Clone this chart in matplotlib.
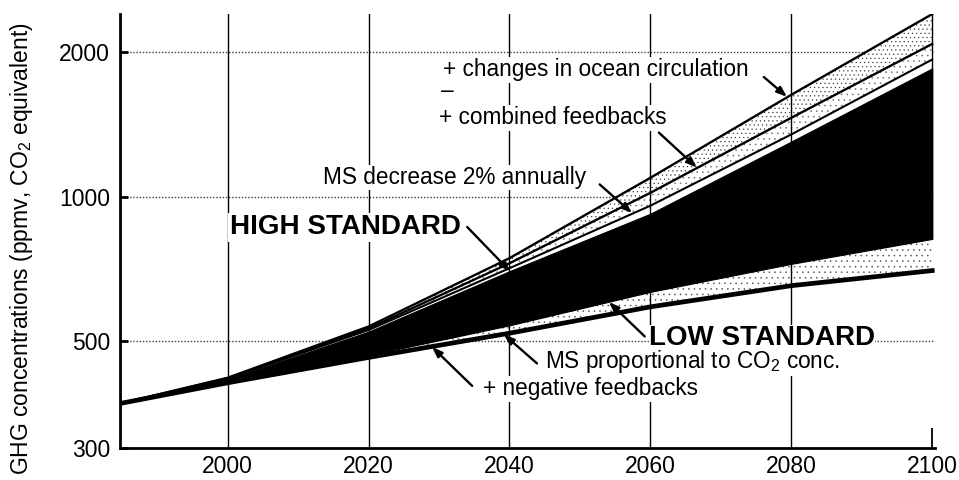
import numpy as np
import matplotlib
matplotlib.use("Agg")
import matplotlib.pyplot as plt
from matplotlib.ticker import FixedLocator, NullLocator

plt.rcParams['font.family'] = ['Liberation Sans', 'DejaVu Sans']
plt.rcParams['mathtext.fontset'] = 'custom'
plt.rcParams['mathtext.rm'] = 'Liberation Sans'
plt.rcParams['mathtext.it'] = 'Liberation Sans:italic'
plt.rcParams['mathtext.bf'] = 'Liberation Sans:bold'
plt.rcParams['hatch.linewidth'] = 0.35

# ---- data ----
years = [1985, 2000, 2020, 2040, 2060, 2080, 2100]
ocean_circ = [372, 420, 537, 745, 1095, 1630, 2400]      # + changes in ocean circulation (upper bound)
combined_fb = [372, 419, 532, 727, 1019, 1460, 2080]     # + combined feedbacks
ms_decrease = [372, 418, 528, 710, 958, 1348, 1930]      # MS decrease 2% annually
high_std = [372, 417, 524, 700, 922, 1303, 1850]         # HIGH STANDARD
low_std = [372, 412, 468, 540, 634, 725, 817]            # LOW STANDARD
ms_prop = [372, 410, 463, 520, 590, 653, 702]            # MS proportional to CO2 conc. / + negative feedbacks

xticks = [2000, 2020, 2040, 2060, 2080, 2100]
yticks = [300, 500, 1000, 2000]
ylabel = "GHG concentrations (ppmv, CO$_2$ equivalent)"

fig = plt.figure(figsize=(9.59, 4.80), dpi=100)
ax = fig.add_axes([0.125, 0.0667, 0.85, 0.904])
ax.set_yscale('log')
ax.set_xlim(1984.7, 2100.4)
ax.set_ylim(300, 2400)

# horizontal dotted grid
for v in yticks[1:]:
    ax.axhline(v, color='0.25', lw=1.0, ls=(0, (1, 1.3)), zorder=0.5)

# stippled bands
ax.fill_between(years, combined_fb, ocean_circ, facecolor='white', edgecolor='0.2',
                hatch='....', lw=0, zorder=1)
ax.fill_between(years, ms_decrease, combined_fb, facecolor='white', edgecolor='0.4',
                hatch='...', lw=0, zorder=1)
ax.fill_between(years, high_std, ms_decrease, facecolor='white', lw=0, zorder=1)
ax.fill_between(years, ms_prop, low_std, facecolor='white', edgecolor='0.3',
                hatch='...', lw=0, zorder=1)
# black band between the two standards
ax.fill_between(years, low_std, high_std, facecolor='black', edgecolor='black', lw=0.8, zorder=1.2)

# lines
ax.plot(years, ocean_circ, color='black', lw=1.7, zorder=2)
ax.plot(years, combined_fb, color='black', lw=1.7, zorder=2)
ax.plot(years, ms_decrease, color='black', lw=1.5, zorder=2)
ax.plot(years, ms_prop, color='black', lw=3.4, zorder=2)

# vertical grid lines
for yr in xticks[:-1]:
    ax.axvline(yr, color='black', lw=1.0, zorder=2.5)
ax.vlines(xticks[-1], 300, 330, color='black', lw=1.3, zorder=2.5)
ax.vlines(xticks[-1], low_std[-1], ocean_circ[-1], color='black', lw=1.0, zorder=2.5)

# axes styling
for s in ['top', 'right']:
    ax.spines[s].set_visible(False)
for s in ['left', 'bottom']:
    ax.spines[s].set_linewidth(2.0)
ax.set_xticks(xticks)
ax.set_xticklabels([str(x) for x in xticks])
ax.yaxis.set_major_locator(FixedLocator(yticks))
ax.yaxis.set_minor_locator(NullLocator())
ax.set_yticklabels([str(y) for y in yticks])
ax.tick_params(axis='x', length=0, pad=5, labelsize=16.5)
ax.tick_params(axis='y', direction='in', length=6, width=2.0, pad=7, labelsize=16.5)

fig.text(22 / 959, 1 - 249 / 480, ylabel, rotation=90, ha='center', va='center', fontsize=16.5)

# annotations
bb = dict(facecolor='white', edgecolor='none', pad=1.0)
aprops = dict(arrowstyle='-|>,head_length=0.6,head_width=0.22', color='black', lw=1.7,
              shrinkA=0, shrinkB=0)
fs = 16.3
ax.text(2030.5, 1836, "+ changes in ocean circulation", fontsize=fs, va='center', ha='left', bbox=bb, zorder=4)
ax.text(2030.3, 1660, "\u2013", fontsize=fs, va='center', ha='left', zorder=4)
ax.text(2030.0, 1460, "+ combined feedbacks", fontsize=fs, va='center', ha='left', bbox=bb, zorder=4)
ax.text(2013.6, 1097, "MS decrease 2% annually", fontsize=fs, va='center', ha='left', bbox=bb, zorder=4)
ax.text(2000.3, 864, "HIGH STANDARD", fontsize=20, fontweight='bold', va='center', ha='left', bbox=bb, zorder=4)
ax.text(2059.8, 509, "LOW STANDARD", fontsize=20, fontweight='bold', va='center', ha='left',
        bbox=dict(facecolor='white', edgecolor='none', pad=0.0), zorder=4)
ax.text(2045.0, 454, "MS proportional to CO$_2$ conc.", fontsize=fs, va='center', ha='left', bbox=bb, zorder=4)
ax.text(2036.2, 398, "+ negative feedbacks", fontsize=fs, va='center', ha='left', bbox=bb, zorder=4)

arrows = [((2076.1, 1775), (2079.4, 1614)),
          ((2061.2, 1360), (2066.6, 1150)),
          ((2052.8, 1061), (2057.4, 925)),
          ((2034.0, 865), (2040.1, 699)),
          ((2059.2, 512), (2054.1, 604)),
          ((2043.9, 450), (2039.2, 517)),
          ((2034.7, 404), (2029.0, 487))]
for tail, head in arrows:
    ax.annotate("", xy=head, xytext=tail, arrowprops=aprops, zorder=5)

fig.savefig("out.png", dpi=100)
